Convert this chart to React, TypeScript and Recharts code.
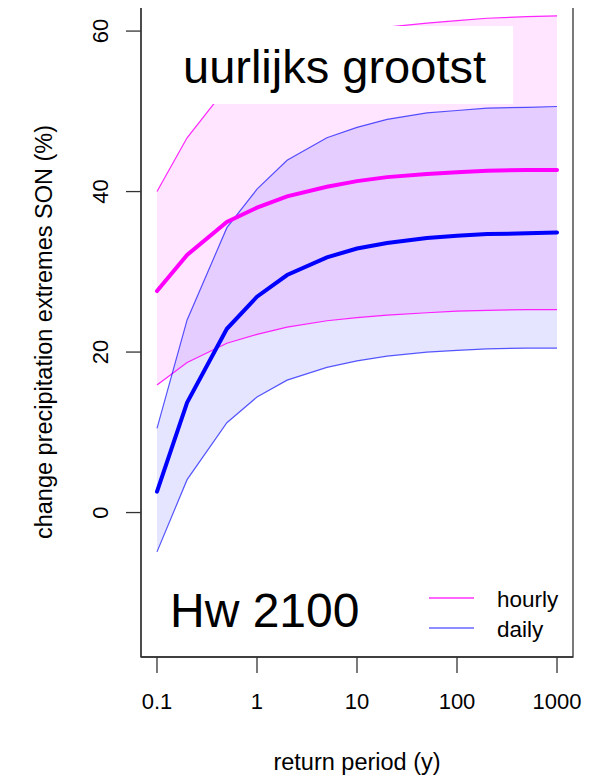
import React from "react";
import { ComposedChart, Area, Line, XAxis, YAxis, ReferenceArea } from "recharts";

const returnPeriods = [0.1, 0.2, 0.5, 1, 2, 5, 10, 20, 50, 100, 200, 500, 1000];
const hourlyLower = [15.9, 18.7, 21.1, 22.2, 23.1, 23.9, 24.3, 24.6, 24.9, 25.1, 25.2, 25.3, 25.3];
const hourlyMedian = [27.6, 32.1, 36.2, 38.0, 39.4, 40.6, 41.3, 41.8, 42.2, 42.4, 42.6, 42.7, 42.7];
const hourlyUpper = [40.0, 46.7, 53.0, 56.0, 58.0, 59.4, 60.1, 60.5, 61.0, 61.3, 61.6, 61.8, 61.9];
const dailyLower = [-4.9, 4.1, 11.2, 14.4, 16.5, 18.1, 18.9, 19.5, 20.0, 20.2, 20.4, 20.5, 20.5];
const dailyMedian = [2.6, 13.7, 22.9, 26.9, 29.6, 31.8, 32.9, 33.6, 34.2, 34.5, 34.7, 34.8, 34.9];
const dailyUpper = [10.5, 24.0, 35.5, 40.3, 43.9, 46.7, 48.0, 49.0, 49.8, 50.1, 50.4, 50.5, 50.6];

const xTicks = [0.1, 1, 10, 100, 1000];
const xTickLabels = ["0.1", "1", "10", "100", "1000"];
const yTicks = [0, 20, 40, 60];

const xTitle = "return period (y)";
const yTitle = "change precipitation extremes SON (%)";
const panelTitle = "uurlijks grootst";
const scenarioLabel = "Hw 2100";
const legendLabels = ["hourly", "daily"];

const FONT = "'Liberation Sans', Arial, Helvetica, sans-serif";
const MAGENTA = "#ff00ff";
const BLUE = "#0000ff";

const data = returnPeriods.map((t, i) => ({
  t,
  hourlyBand: [hourlyLower[i], hourlyUpper[i]],
  dailyBand: [dailyLower[i], dailyUpper[i]],
  hourlyLower: hourlyLower[i],
  hourlyMedian: hourlyMedian[i],
  hourlyUpper: hourlyUpper[i],
  dailyLower: dailyLower[i],
  dailyMedian: dailyMedian[i],
  dailyUpper: dailyUpper[i],
}));

const XTick = (props: any) => {
  const { x, y, payload } = props;
  const idx = xTicks.indexOf(payload.value);
  return (
    <text x={x} y={y} dy={34} textAnchor="middle" fontFamily={FONT} fontSize={22} fill="#000">
      {idx >= 0 ? xTickLabels[idx] : payload.value}
    </text>
  );
};

const YTick = (props: any) => {
  const { y, payload } = props;
  const bx = 108;
  return (
    <text
      x={bx}
      y={y}
      textAnchor="middle"
      fontFamily={FONT}
      fontSize={22}
      fill="#000"
      transform={`rotate(-90, ${bx}, ${y})`}
    >
      {payload.value}
    </text>
  );
};

export default function App() {
  return (
    <div style={{ position: "relative", width: 608, height: 779, margin: "-8px 0 0 -8px", background: "#fff" }}>
      <ComposedChart
        width={608}
        height={779}
        data={data}
        margin={{ top: 7, right: 35, bottom: 0, left: 0 }}
      >
        <XAxis
          dataKey="t"
          type="number"
          scale="log"
          domain={[0.0692, 1445]}
          allowDataOverflow
          ticks={xTicks}
          interval={0}
          height={122}
          tickSize={16}
          tick={<XTick />}
          axisLine={{ stroke: "#333", strokeWidth: 1.3 }}
          tickLine={{ stroke: "#333", strokeWidth: 1.3 }}
        />
        <YAxis
          type="number"
          domain={[-18, 63]}
          allowDataOverflow
          ticks={yTicks}
          interval={0}
          width={141}
          tickSize={15}
          tick={<YTick />}
          axisLine={{ stroke: "#333", strokeWidth: 1.3 }}
          tickLine={{ stroke: "#333", strokeWidth: 1.3 }}
        />
        <Area
          dataKey="hourlyBand"
          type="linear"
          stroke="none"
          fill={MAGENTA}
          fillOpacity={0.1}
          isAnimationActive={false}
          activeDot={false}
        />
        <Area
          dataKey="dailyBand"
          type="linear"
          stroke="none"
          fill={BLUE}
          fillOpacity={0.1}
          isAnimationActive={false}
          activeDot={false}
        />
        <Line dataKey="hourlyUpper" type="linear" stroke={MAGENTA} strokeOpacity={0.85} strokeWidth={1.2} dot={false} activeDot={false} isAnimationActive={false} />
        <Line dataKey="hourlyLower" type="linear" stroke={MAGENTA} strokeOpacity={0.85} strokeWidth={1.2} dot={false} activeDot={false} isAnimationActive={false} />
        <Line dataKey="dailyUpper" type="linear" stroke={BLUE} strokeOpacity={0.65} strokeWidth={1.2} dot={false} activeDot={false} isAnimationActive={false} />
        <Line dataKey="dailyLower" type="linear" stroke={BLUE} strokeOpacity={0.65} strokeWidth={1.2} dot={false} activeDot={false} isAnimationActive={false} />
        <Line dataKey="hourlyMedian" type="linear" stroke={MAGENTA} strokeWidth={4} strokeLinecap="round" dot={false} activeDot={false} isAnimationActive={false} />
        <Line dataKey="dailyMedian" type="linear" stroke={BLUE} strokeWidth={4} strokeLinecap="round" dot={false} activeDot={false} isAnimationActive={false} />
        <ReferenceArea
          x1={0.0692}
          x2={1445}
          y1={-18}
          y2={63}
          ifOverflow="visible"
          fill="none"
          stroke="#333"
          strokeWidth={1.3}
        />
      </ComposedChart>
      <svg
        width={608}
        height={779}
        style={{ position: "absolute", left: 0, top: 0, pointerEvents: "none" }}
      >
        <rect x={160} y={26} width={353} height={78} fill="#fff" />
        <text x={183} y={83} fontFamily={FONT} fontSize={47} fill="#000">
          {panelTitle}
        </text>
        <text x={170} y={627} fontFamily={FONT} fontSize={48} fill="#000">
          {scenarioLabel}
        </text>
        <line x1={429} x2={474} y1={598} y2={598} stroke={MAGENTA} strokeOpacity={0.8} strokeWidth={1.5} />
        <line x1={429} x2={474} y1={628} y2={628} stroke={BLUE} strokeOpacity={0.6} strokeWidth={1.5} />
        <text x={497} y={607} fontFamily={FONT} fontSize={22.5} fill="#000">
          {legendLabels[0]}
        </text>
        <text x={497} y={637} fontFamily={FONT} fontSize={22.5} fill="#000">
          {legendLabels[1]}
        </text>
        <text x={357} y={770} textAnchor="middle" fontFamily={FONT} fontSize={23.5} fill="#000">
          {xTitle}
        </text>
        <text
          x={52}
          y={332}
          textAnchor="middle"
          fontFamily={FONT}
          fontSize={23.5}
          fill="#000"
          transform="rotate(-90, 52, 332)"
        >
          {yTitle}
        </text>
      </svg>
    </div>
  );
}
